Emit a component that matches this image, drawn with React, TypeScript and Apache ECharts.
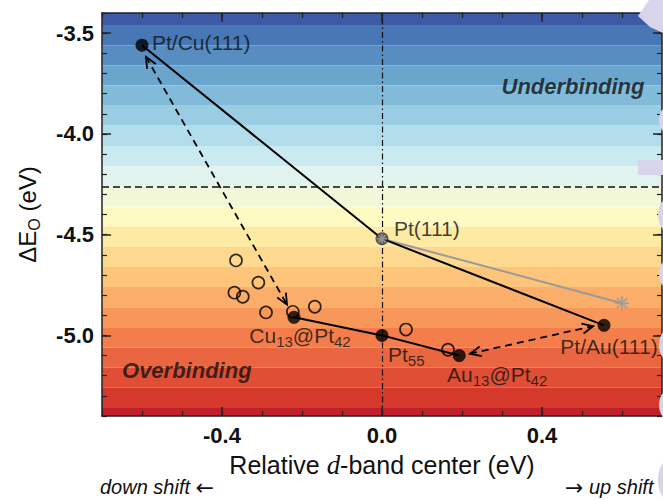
import React, { useEffect, useRef } from 'react';
import * as echarts from 'echarts';

const FONT = '"Liberation Sans", Arial, Helvetica, sans-serif';

// Background colour bands (edges in eV, top to bottom) and their colours
const bandEdges = [-3.4, -3.46, -3.56, -3.66, -3.76, -3.86, -3.96, -4.06, -4.16, -4.26, -4.36, -4.46, -4.56, -4.66, -4.76, -4.86, -4.96, -5.06, -5.16, -5.26, -5.36, -5.4];
const bandColors = ['#3c5aa6', '#4777b4', '#578dc0', '#6aa5cd', '#82bbd9', '#9acde3', '#b2ddeb', '#caeaf1', '#e2f3ef', '#f0f8d9', '#fefbc2', '#fdeaa3', '#fcd98e', '#fcc57a', '#fbae69', '#f8975a', '#f37e4c', '#ea6640', '#e04f35', '#d4392c', '#c01f2c'];

// Open circles (other nanoparticles)
const openX = [-0.365, -0.309, -0.369, -0.348, -0.29, -0.223, -0.168, 0.06, 0.165];
const openY = [-4.628, -4.738, -4.788, -4.808, -4.886, -4.883, -4.858, -4.971, -5.071];

// Surfaces (black line)
const surfNames = ['Pt/Cu(111)', 'Pt(111)', 'Pt/Au(111)'];
const surfX = [-0.6, 0.0, 0.555];
const surfY = [-3.56, -4.52, -4.95];

// Clusters (black line)
const clusterNames = ['{n|Cu}{s|13}{n|@Pt}{s|42}', '{n|Pt}{s|55}', '{n|Au}{s|13}{n|@Pt}{s|42}'];
const clusterX = [-0.22, 0.0, 0.193];
const clusterY = [-4.91, -5.0, -5.1];

// Gray reference line (Pt(111) -> gray star)
const grayX = [0.0, 0.6];
const grayY = [-4.52, -4.84];

// Double-headed dashed arrows
const arrowX1 = [-0.59, 0.22];
const arrowY1 = [-3.6175, -5.091];
const arrowX2 = [-0.2375, 0.528];
const arrowY2 = [-4.8475, -4.954];

// Reference lines
const hLineY = -4.26;
const vLineX = 0;

// Region labels
const regionNames = ['Underbinding', 'Overbinding'];
const regionX = [0.4775, -0.488];
const regionY = [-3.766, -5.174];

// Ticks
const xMajorTicks = [-0.4, 0, 0.4];
const yMajorTicks = [-5.0, -4.5, -4.0, -3.5];

export default function App() {
  const ref = useRef<HTMLDivElement>(null);

  useEffect(() => {
    if (!ref.current) return;
    const chart = echarts.init(ref.current, null, { renderer: 'svg' });
    const fmt = (v: number) => (Math.abs(v) < 1e-9 ? '0.0' : v.toFixed(1));
    const axisColor = '#222';

    const mkAxis = (kind: 'x' | 'y', position: string, major: boolean, labeled: boolean, extra: any = {}) => {
      const isX = kind === 'x';
      const majors = isX ? xMajorTicks : yMajorTicks;
      return {
        type: 'value',
        gridIndex: 0,
        min: isX ? -0.7 : -5.4,
        max: isX ? 0.7 : -3.4,
        position,
        z: 10,
        ...(major ? {} : { interval: 0.1 }),
        axisLine: { show: major, onZero: false, lineStyle: { color: axisColor, width: 1.5 } },
        axisTick: major
          ? { show: true, inside: true, length: 9, customValues: majors, lineStyle: { color: axisColor, width: 1.5 } }
          : { show: true, inside: true, length: 5, lineStyle: { color: axisColor, width: 1.2 } },
        axisLabel: labeled
          ? { show: true, customValues: majors, formatter: fmt, fontFamily: FONT, fontSize: 22, fontWeight: 'bold', color: '#111', margin: 8 }
          : { show: false },
        splitLine: { show: false },
        ...extra,
      };
    };

    const labelRich = {
      n: { fontFamily: FONT, fontSize: 21, color: '#111', lineHeight: 24, verticalAlign: 'top' },
      s: { fontFamily: FONT, fontSize: 15, color: '#111', lineHeight: 14, verticalAlign: 'bottom' },
    };
    const baseLabel = {
      show: true,
      position: 'inside',
      fontFamily: FONT,
      fontSize: 21,
      color: '#111',
      textBorderWidth: 0,
      verticalAlign: 'middle',
    };
    const surfLabelAlign = ['left', 'left', 'center'];
    const surfLabelOffset = [[10, -3], [12, -10], [5, 21]];
    const clusterLabelAlign = ['center', 'left', 'center'];
    const clusterLabelOffset = [[6, 20], [6, 21], [38, 20]];

    const asteriskPath = 'path://M7,0L7,14M0,7L14,7M2,2L12,12M2,12L12,2';
    const noteFont = { fontFamily: FONT, fontStyle: 'italic', fontSize: 20, fill: '#111' };
    const arrowFont = { fontFamily: '"DejaVu Sans", sans-serif', fontSize: 22, fill: '#111' };

    const option: any = {
      animation: false,
      backgroundColor: '#fff',
      grid: { left: 102, right: 1, top: 13, bottom: 84, containLabel: false, outerBoundsMode: 'none' },
      xAxis: [
        mkAxis('x', 'bottom', true, true, {
          name: 'Relative {i|d}-band center (eV)',
          nameLocation: 'middle',
          nameGap: 35,
          nameTextStyle: {
            fontFamily: FONT,
            fontSize: 25,
            color: '#111',
            rich: { i: { fontFamily: '"Liberation Serif", "Times New Roman", serif', fontStyle: 'italic', fontSize: 27, color: '#111' } },
          },
        }),
        mkAxis('x', 'bottom', false, false),
        mkAxis('x', 'top', true, false),
        mkAxis('x', 'top', false, false),
      ],
      yAxis: [
        mkAxis('y', 'left', true, true, {
          name: '{n|ΔE}{s|O}{n| (eV)}',
          nameLocation: 'middle',
          nameRotate: 90,
          nameGap: 60,
          nameTextStyle: {
            fontFamily: FONT,
            fontSize: 24,
            color: '#111',
            rich: {
              n: { fontFamily: FONT, fontSize: 24, color: '#111', lineHeight: 27, verticalAlign: 'top' },
              s: { fontFamily: FONT, fontSize: 16, color: '#111', lineHeight: 14, verticalAlign: 'bottom' },
            },
          },
        }),
        mkAxis('y', 'left', false, false),
        mkAxis('y', 'right', true, false),
        mkAxis('y', 'right', false, false),
      ],
      series: [
        {
          type: 'line',
          data: [],
          z: 1,
          silent: true,
          markArea: {
            silent: true,
            data: bandColors.map((c, i) => [
              { yAxis: bandEdges[i], itemStyle: { color: c, borderWidth: 0 } },
              { yAxis: bandEdges[i + 1] },
            ]),
          },
        },
        {
          type: 'line',
          data: [],
          z: 2,
          silent: true,
          markLine: {
            silent: true,
            symbol: 'none',
            label: { show: false },
            data: [
              { yAxis: hLineY, lineStyle: { type: [7, 4], width: 1.5, color: '#111' } },
              { xAxis: vLineX, lineStyle: { type: [6, 3, 1.5, 3], width: 1.2, color: '#111' } },
            ],
          },
        },
        {
          type: 'line',
          z: 3,
          data: grayX.map((x, i) => [x, grayY[i]]),
          showSymbol: false,
          lineStyle: { color: '#9a9a9a', width: 2 },
          silent: true,
        },
        {
          type: 'line',
          z: 3,
          data: surfX.map((x, i) => [x, surfY[i]]),
          showSymbol: false,
          lineStyle: { color: '#000', width: 2 },
          silent: true,
        },
        {
          type: 'line',
          z: 3,
          data: clusterX.map((x, i) => [x, clusterY[i]]),
          showSymbol: false,
          lineStyle: { color: '#000', width: 2 },
          silent: true,
        },
        {
          type: 'scatter',
          z: 4,
          data: openX.map((x, i) => [x, openY[i]]),
          symbol: 'circle',
          symbolSize: 12,
          itemStyle: { color: 'rgba(0,0,0,0)', borderColor: '#000', borderWidth: 1.7 },
          silent: true,
        },
        {
          type: 'custom',
          z: 4,
          coordinateSystem: 'cartesian2d',
          silent: true,
          data: arrowX1.map((x, i) => [x, arrowY1[i], arrowX2[i], arrowY2[i]]),
          encode: { x: [0, 2], y: [1, 3] },
          renderItem: (params: any, api: any) => {
            const p1 = api.coord([api.value(0), api.value(1)]);
            const p2 = api.coord([api.value(2), api.value(3)]);
            const dx = p2[0] - p1[0];
            const dy = p2[1] - p1[1];
            const L = Math.hypot(dx, dy) || 1;
            const ux = dx / L;
            const uy = dy / L;
            const head = (tip: number[], dirx: number, diry: number) => {
              const len = 11;
              const w = 5;
              const bx = tip[0] - dirx * len;
              const by = tip[1] - diry * len;
              return {
                type: 'polyline',
                shape: { points: [[bx - diry * w, by + dirx * w], [tip[0], tip[1]], [bx + diry * w, by - dirx * w]] },
                style: { stroke: '#000', fill: 'none', lineWidth: 1.8 },
              };
            };
            return {
              type: 'group',
              children: [
                {
                  type: 'line',
                  shape: { x1: p1[0], y1: p1[1], x2: p2[0], y2: p2[1] },
                  style: { stroke: '#000', lineWidth: 1.8, lineDash: [7, 5], fill: 'none' },
                },
                head(p1, -ux, -uy),
                head(p2, ux, uy),
              ],
            };
          },
        },
        {
          type: 'scatter',
          z: 5,
          data: surfX.map((x, i) => ({
            value: [x, surfY[i]],
            symbol: 'circle',
            symbolSize: 13,
            itemStyle: i === 1 ? { color: '#333' } : { color: '#000' },
            label: { ...baseLabel, formatter: surfNames[i], align: surfLabelAlign[i], offset: surfLabelOffset[i] },
          })),
          silent: true,
        },
        {
          type: 'scatter',
          z: 6,
          data: grayX.map((x, i) => ({
            value: [x, grayY[i]],
            symbol: asteriskPath,
            symbolSize: i === 0 ? 10 : 14,
            itemStyle: { color: 'rgba(0,0,0,0)', borderColor: i === 0 ? '#a8a8a8' : '#9a9a9a', borderWidth: i === 0 ? 1.6 : 2 },
          })),
          silent: true,
        },
        {
          type: 'scatter',
          z: 5,
          data: clusterX.map((x, i) => ({
            value: [x, clusterY[i]],
            label: { ...baseLabel, formatter: clusterNames[i], rich: labelRich, align: clusterLabelAlign[i], offset: clusterLabelOffset[i] },
          })),
          symbol: 'circle',
          symbolSize: 13,
          itemStyle: { color: '#000' },
          silent: true,
        },
        {
          type: 'scatter',
          z: 5,
          data: regionX.map((x, i) => ({
            value: [x, regionY[i]],
            label: {
              ...baseLabel,
              formatter: regionNames[i],
              align: 'center',
              fontSize: 22,
              fontWeight: 'bold',
              fontStyle: 'italic',
            },
          })),
          symbolSize: 0,
          silent: true,
        },
      ],
      graphic: [
        {
          type: 'text',
          left: 100,
          top: 476,
          z: 20,
          style: {
            text: '{t|down shift }{a|←}',
            rich: { t: noteFont, a: arrowFont },
          },
        },
        {
          type: 'text',
          left: 565,
          top: 476,
          z: 20,
          style: {
            text: '{a|→}{t| up shift}',
            rich: { t: noteFont, a: arrowFont },
          },
        },
        {
          type: 'polygon',
          z: 30,
          shape: { points: [[663, 0], [649, 0], [638, 16], [650, 27], [663, 33]] },
          style: { fill: '#d8d5eb' },
        },
        { type: 'rect', z: 30, shape: { x: 638, y: 160, width: 25, height: 15 }, style: { fill: '#d8d5eb' } },
        { type: 'ellipse', z: 30, shape: { cx: 669, cy: 120, rx: 10, ry: 14 }, style: { fill: '#d8d5eb' } },
        { type: 'ellipse', z: 30, shape: { cx: 669, cy: 215, rx: 11, ry: 17 }, style: { fill: '#d8d5eb' } },
        { type: 'ellipse', z: 30, shape: { cx: 669, cy: 274, rx: 10, ry: 15 }, style: { fill: '#d8d5eb' } },
        { type: 'ellipse', z: 30, shape: { cx: 669, cy: 345, rx: 10, ry: 16 }, style: { fill: '#d8d5eb' } },
        { type: 'ellipse', z: 30, shape: { cx: 669, cy: 405, rx: 10, ry: 15 }, style: { fill: '#d8d5eb' } },
        { type: 'ellipse', z: 30, shape: { cx: 669, cy: 480, rx: 11, ry: 20 }, style: { fill: '#d8d5eb' } },
      ],
    };

    chart.setOption(option);
    return () => {
      chart.dispose();
    };
  }, []);

  return (
    <div
      ref={ref}
      style={{ position: 'fixed', left: 0, top: 0, width: 663, height: 500, background: '#fff' }}
    />
  );
}
